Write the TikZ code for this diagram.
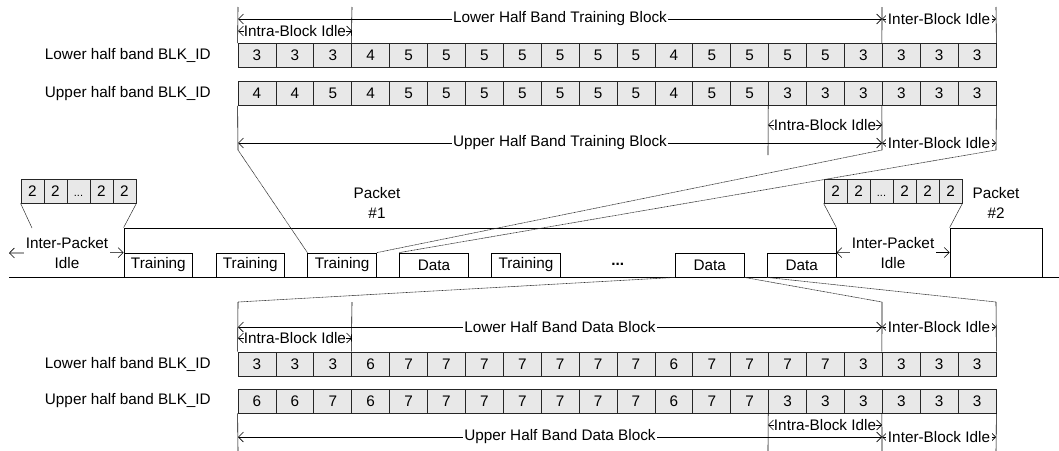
\documentclass[tikz,border=0pt]{standalone}
\usepackage{fontspec}
\setmainfont{Liberation Sans}
\usetikzlibrary{arrows.meta}
\definecolor{cellfill}{HTML}{E8E8E8}
\definecolor{connc}{HTML}{303030}
\begin{document}
\begin{tikzpicture}[x=1pt,y=-1pt,
  every node/.style={font=\fontsize{15.3}{20}\selectfont, inner sep=0pt},
  cell/.style={draw=black!85, fill=cellfill, line width=0.8pt, minimum width=37.9pt, minimum height=24pt, text height=10.7pt, text depth=0pt},
  cellb/.style={draw=black!85, fill=cellfill, line width=0.8pt, minimum width=23pt, minimum height=24pt, text height=10.7pt, text depth=0pt},
  ibox/.style={draw=black, line width=0.8pt, minimum width=68.7pt, minimum height=24pt},
  pbox/.style={draw=black, line width=0.8pt},
  dimarrow/.style={line width=0.6pt, {Straight Barb[length=5pt,width=10pt]}-{Straight Barb[length=5pt,width=10pt]}},
  dimlab/.style={fill=white, inner xsep=1.5pt, inner ysep=1pt},
  vline/.style={line width=0.6pt},
  conn/.style={line width=0.6pt, connc, dash pattern=on 1pt off 0.5pt},
  sconn/.style={line width=0.5pt, connc},
  rowlab/.style={anchor=east}
]
\useasboundingbox (0,0) rectangle (1059,450);
\clip (0,0) rectangle (1059,450);

% ---------------- top block (training) ----------------
\node[rowlab] (labTL) at (211,55.5) {Lower half band BLK\_ID};
\node[rowlab] (labTU) at (211,93.5) {Upper half band BLK\_ID};
\foreach \v [count=\i from 0] in {3,3,3,4,5,5,5,5,5,5,5,4,5,5,5,5,3,3,3,3}
  \node[cell] (tl\i) at ({238+37.9*(\i+0.5)},55.5) {\v};
\foreach \v [count=\i from 0] in {4,4,5,4,5,5,5,5,5,5,5,4,5,5,3,3,3,3,3,3}
  \node[cell] (tu\i) at ({238+37.9*(\i+0.5)},93.5) {\v};

\coordinate (tt0) at (238,7);
\coordinate (tt3) at (352,7);
\coordinate (tt17) at (882,7);
\coordinate (tt19) at (996,7);
\draw[vline] (tl0.north west) -- (tt0);
\draw[vline] (tl3.north west) -- (tt3);
\draw[vline] (tl17.north west) -- (tt17);
\draw[vline] (tl19.north east) -- (tt19);
\coordinate (ta0) at (238,19);
\coordinate (ta17) at (882,19);
\coordinate (ta19) at (996,19);
\coordinate (tb0) at (238,31);
\coordinate (tb3) at (352,31);
\draw[dimarrow] (ta0) -- (ta17) node[midway,dimlab] (tlab1) {Lower Half Band Training Block};
\draw[dimarrow] (ta17) -- (ta19) node[midway,dimlab] (tlab2) {Inter-Block Idle};
\draw[dimarrow] (tb0) -- (tb3) node[midway,dimlab,inner xsep=0pt] (tlab3) {Intra-Block Idle};

\coordinate (ub0) at (238,150);
\coordinate (ub14) at (768,155);
\coordinate (ub17) at (882,150);
\coordinate (ub19) at (996,150);
\draw[vline] (tu0.south west) -- (ub0);
\draw[vline] (tu14.south west) -- (ub14);
\draw[vline] (tu17.south west) -- (ub17);
\draw[vline] (tu19.south east) -- (ub19);
\coordinate (uc14) at (768,125);
\coordinate (uc17) at (882,125);
\coordinate (ud0) at (238,143);
\coordinate (ud17) at (882,143);
\coordinate (ud19) at (996,143);
\draw[dimarrow] (ud0) -- (ud17) node[midway,dimlab] (ulab1) {Upper Half Band Training Block};
\draw[dimarrow] (ud17) -- (ud19) node[midway,dimlab] (ulab2) {Inter-Block Idle};
\draw[dimarrow] (uc14) -- (uc17) node[midway,dimlab,inner xsep=0pt] (ulab3) {Intra-Block Idle};

% ---------------- middle (time line) ----------------
\node[pbox, minimum width=712pt, minimum height=49pt] (p1) at (480,252.5) {};
\node[pbox, minimum width=92pt, minimum height=49pt] (p2) at (996,252.5) {};
\node[align=center] (p1lab) at (377,203) {Packet\\\#1};
\node[align=center] (p2lab) at (996,203) {Packet\\\#2};

\node[ibox] (b1) at ({124+34.35},265) {Training};
\node[ibox] (b2) at ({215.9+34.35},265) {Training};
\node[ibox] (b3) at ({307.8+34.35},265) {Training};
\node[ibox] (b4) at ({399.7+34.35},265) {Data};
\node[ibox] (b5) at ({491.6+34.35},265) {Training};
\node (b6) at ({583.5+34.35},264) {\textbf{...}};
\node[ibox] (b7) at ({675.4+34.35},265) {Data};
\node[ibox] (b8) at ({767.3+34.35},265) {Data};

\coordinate (ax0) at (9,277);
\coordinate (ax1) at (1065,277);
\draw[line width=0.7pt, -{Straight Barb[length=5pt,width=12pt]}] (ax0) -- (ax1);

% inter-packet idle
\node[cellb] (L0) at (32.5,191) {2};
\node[cellb] (L1) at (55.5,191) {2};
\node[cellb] (L2) at (78.5,191) {\fontsize{11}{13}\selectfont ...};
\node[cellb] (L3) at (101.5,191) {2};
\node[cellb] (L4) at (124.5,191) {2};
\node[cellb] (R0) at (835.5,191) {2};
\node[cellb] (R1) at (858.5,191) {2};
\node[cellb] (R2) at (881.5,191) {\fontsize{11}{13}\selectfont ...};
\node[cellb] (R3) at (904.5,191) {2};
\node[cellb] (R4) at (927.5,191) {2};
\node[cellb] (R5) at (950.5,191) {2};

\coordinate (ipl) at (32,228);
\coordinate (ip0) at (9,253);
\draw[sconn] (L0.south west) -- (ipl);
\draw[sconn] (L4.south east) -- (p1.north west);
\draw[sconn] (R0.south west) -- (p1.north east);
\draw[sconn] (R5.south east) -- (p2.north west);
\draw[dimarrow] (ip0) -- (b1.north west);
\draw[dimarrow] (b8.north east) -- (p2.west);
\node[align=center, fill=white, inner xsep=2pt] (ipt1) at (67,253) {Inter-Packet\\Idle};
\node[align=center, fill=white, inner xsep=2pt] (ipt2) at (893,253) {Inter-Packet\\Idle};

% connectors to training block
\draw[conn] (b3.north west) -- (ub0);
\draw[conn] (b3.north east) -- (ub17);
\draw[conn] (b4.north west) -- (ub19);

% ---------------- bottom block (data) ----------------
\node[rowlab] (labDL) at (211,364) {Lower half band BLK\_ID};
\node[rowlab] (labDU) at (211,401) {Upper half band BLK\_ID};
\foreach \v [count=\i from 0] in {3,3,3,6,7,7,7,7,7,7,7,6,7,7,7,7,3,3,3,3}
  \node[cell] (dl\i) at ({238+37.9*(\i+0.5)},364) {\v};
\foreach \v [count=\i from 0] in {6,6,7,6,7,7,7,7,7,7,7,6,7,7,3,3,3,3,3,3}
  \node[cell] (du\i) at ({238+37.9*(\i+0.5)},401) {\v};

\coordinate (lb0) at (238,302);
\coordinate (lb3) at (352,302);
\coordinate (lb17) at (882,302);
\coordinate (lb19) at (996,302);
\draw[conn] (b7.south west) -- (lb0);
\draw[conn] (b7.south east) -- (lb17);
\draw[conn] (b8.south west) -- (lb19);
\draw[vline] (dl0.north west) -- (lb0);
\draw[vline] (dl3.north west) -- (lb3);
\draw[vline] (dl17.north west) -- (lb17);
\draw[vline] (dl19.north east) -- (lb19);
\coordinate (da0) at (238,327);
\coordinate (da17) at (882,327);
\coordinate (da19) at (996,327);
\coordinate (db0) at (238,338);
\coordinate (db3) at (352,338);
\draw[dimarrow] (da0) -- (da17) node[midway,dimlab] (dlab1) {Lower Half Band Data Block};
\draw[dimarrow] (da17) -- (da19) node[midway,dimlab] (dlab2) {Inter-Block Idle};
\draw[dimarrow] (db0) -- (db3) node[midway,dimlab,inner xsep=0pt] (dlab3) {Intra-Block Idle};

\coordinate (eb0) at (238,452);
\coordinate (eb14) at (768,452);
\coordinate (eb17) at (882,452);
\coordinate (eb19) at (996,452);
\draw[vline] (du0.south west) -- (eb0);
\draw[vline] (du14.south west) -- (eb14);
\draw[vline] (du17.south west) -- (eb17);
\draw[vline] (du19.south east) -- (eb19);
\coordinate (ec14) at (768,425);
\coordinate (ec17) at (882,425);
\coordinate (ed0) at (238,437);
\coordinate (ed17) at (882,437);
\coordinate (ed19) at (996,437);
\draw[dimarrow] (ed0) -- (ed17) node[midway,dimlab] (elab1) {Upper Half Band Data Block};
\draw[dimarrow] (ed17) -- (ed19) node[midway,dimlab] (elab2) {Inter-Block Idle};
\draw[dimarrow] (ec14) -- (ec17) node[midway,dimlab,inner xsep=0pt] (elab3) {Intra-Block Idle};
\end{tikzpicture}
\end{document}
